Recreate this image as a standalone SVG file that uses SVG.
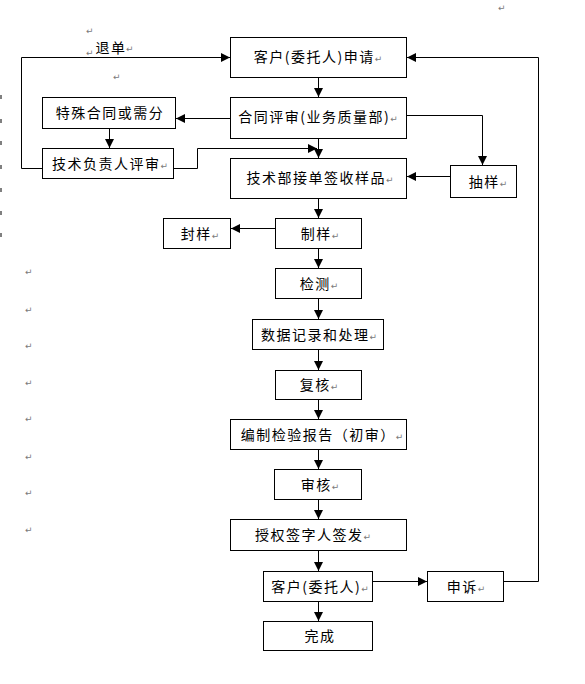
<svg xmlns="http://www.w3.org/2000/svg" width="585" height="684" viewBox="0 0 585 684">
<style>
.box{fill:#fff;stroke:#000;stroke-width:1}
.t{font-family:"Noto Sans CJK SC","Liberation Sans",sans-serif;font-size:14px;letter-spacing:1.5px;fill:#000;text-anchor:middle}
.r{font-family:"DejaVu Sans",sans-serif;font-size:9px;letter-spacing:0;fill:#7a7a7a}
.c{fill:none;stroke:#000;stroke-width:1}
.m{fill:#808080}
</style>
<defs>
<marker id="ah" viewBox="0 0 10 10" refX="10" refY="5" markerWidth="9" markerHeight="9" markerUnits="userSpaceOnUse" orient="auto">
<path d="M0,0 L10,5 L0,10 z" fill="#000"/>
</marker>
</defs>
<rect width="585" height="684" fill="#fff"/>
<g id="margin-marks">
<rect class="m" x="0" y="95" width="2" height="4"/>
<rect class="m" x="0" y="119" width="2" height="4"/>
<rect class="m" x="0" y="141" width="2" height="4"/>
<rect class="m" x="0" y="165" width="2" height="4"/>
<rect class="m" x="0" y="188" width="2" height="4"/>
<rect class="m" x="0" y="211" width="2" height="4"/>
<rect class="m" x="0" y="233" width="2" height="4"/>
<text class="r" x="498" y="11">↵</text>
<text class="r" x="86" y="34">↵</text>
<text class="r" x="86" y="56">↵</text>
<text class="r" x="113" y="80">↵</text>
<text class="r" x="25" y="275">↵</text>
<text class="r" x="25" y="313">↵</text>
<text class="r" x="25" y="349">↵</text>
<text class="r" x="25" y="386">↵</text>
<text class="r" x="25" y="422">↵</text>
<text class="r" x="25" y="460">↵</text>
<text class="r" x="25" y="496">↵</text>
<text class="r" x="25" y="533">↵</text>
</g>
<g id="connectors">
<path class="c" marker-end="url(#ah)" d="M318.5,77 V97"/>
<path class="c" marker-end="url(#ah)" d="M230,118.5 H176"/>
<path class="c" marker-end="url(#ah)" d="M109.5,128 V148"/>
<path class="c" marker-end="url(#ah)" d="M42,168.5 H21.5 V57.5 H230"/>
<path class="c" marker-end="url(#ah)" d="M174,168.5 H197.5 V148.5 H317"/>
<path class="c" marker-end="url(#ah)" d="M318.5,138 V158"/>
<path class="c" marker-end="url(#ah)" d="M407,115.5 H482.5 V165"/>
<path class="c" marker-end="url(#ah)" d="M450,176.5 H407"/>
<path class="c" marker-end="url(#ah)" d="M318.5,198 V218"/>
<path class="c" marker-end="url(#ah)" d="M275,228.5 H231"/>
<path class="c" marker-end="url(#ah)" d="M318.5,248 V268"/>
<path class="c" marker-end="url(#ah)" d="M318.5,298 V319"/>
<path class="c" marker-end="url(#ah)" d="M318.5,349 V370"/>
<path class="c" marker-end="url(#ah)" d="M318.5,399 V419"/>
<path class="c" marker-end="url(#ah)" d="M318.5,449 V469"/>
<path class="c" marker-end="url(#ah)" d="M318.5,499 V519"/>
<path class="c" marker-end="url(#ah)" d="M318.5,550 V571"/>
<path class="c" marker-end="url(#ah)" d="M318.5,601 V621"/>
<path class="c" marker-end="url(#ah)" d="M373,581.5 H427"/>
<path class="c" marker-end="url(#ah)" d="M504,581.5 H538.5 V57.5 H407"/>
<text class="t" x="111" y="53">退单</text>
<text class="r" x="126" y="52">↵</text>
</g>
<g id="n1"><rect class="box" x="230.5" y="37.5" width="176" height="40"/><text class="t" x="318" y="62">客户(委托人)申请<tspan class="r">↵</tspan></text></g>
<g id="n2"><rect class="box" x="230.5" y="97.5" width="176" height="41"/><text class="t" x="318" y="122">合同评审(业务质量部)<tspan class="r">↵</tspan></text></g>
<g id="n3"><rect class="box" x="42.5" y="97.5" width="133" height="31"/><text class="t" x="110" y="118">特殊合同或需分</text></g>
<g id="n4"><rect class="box" x="42.5" y="148.5" width="131" height="30"/><text class="t" x="110" y="169">技术负责人评审<tspan class="r">↵</tspan></text></g>
<g id="n5"><rect class="box" x="230.5" y="158.5" width="176" height="40"/><text class="t" x="320" y="183">技术部接单签收样品<tspan class="r">↵</tspan></text></g>
<g id="n6"><rect class="box" x="450.5" y="165.5" width="66" height="32"/><text class="t" x="488" y="187">抽样<tspan class="r">↵</tspan></text></g>
<g id="n7"><rect class="box" x="163.5" y="218.5" width="67" height="30"/><text class="t" x="200" y="239">封样<tspan class="r">↵</tspan></text></g>
<g id="n8"><rect class="box" x="275.5" y="218.5" width="86" height="30"/><text class="t" x="320" y="239">制样<tspan class="r">↵</tspan></text></g>
<g id="n9"><rect class="box" x="275.5" y="268.5" width="86" height="30"/><text class="t" x="319" y="289">检测<tspan class="r">↵</tspan></text></g>
<g id="n10"><rect class="box" x="252.5" y="319.5" width="131" height="30"/><text class="t" x="319" y="340">数据记录和处理<tspan class="r">↵</tspan></text></g>
<g id="n11"><rect class="box" x="275.5" y="370.5" width="86" height="29"/><text class="t" x="319" y="390">复核<tspan class="r">↵</tspan></text></g>
<g id="n12"><rect class="box" x="230.5" y="419.5" width="176" height="30"/><text class="t" x="322" y="440">编制检验报告（初审）<tspan class="r">↵</tspan></text></g>
<g id="n13"><rect class="box" x="274.5" y="469.5" width="87" height="30"/><text class="t" x="320" y="490">审核<tspan class="r">↵</tspan></text></g>
<g id="n14"><rect class="box" x="230.5" y="519.5" width="176" height="31"/><text class="t" x="313" y="540">授权签字人签发<tspan class="r">↵</tspan></text></g>
<g id="n15"><rect class="box" x="263.5" y="571.5" width="109" height="30"/><text class="t" x="320" y="592">客户(委托人)<tspan class="r">↵</tspan></text></g>
<g id="n16"><rect class="box" x="263.5" y="621.5" width="109" height="29"/><text class="t" x="320" y="641">完成</text></g>
<g id="n17"><rect class="box" x="427.5" y="571.5" width="76" height="30"/><text class="t" x="466" y="592">申诉<tspan class="r">↵</tspan></text></g>
</svg>
